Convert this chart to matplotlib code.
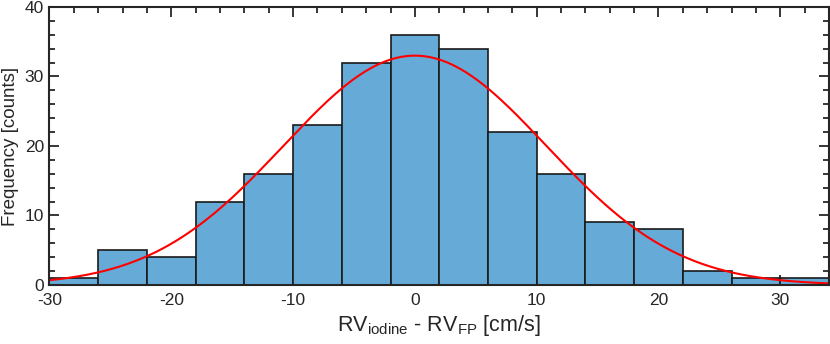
"""Histogram of RV differences (iodine vs FP) with a Gaussian fit overlay."""

import matplotlib

matplotlib.use("Agg")
import matplotlib.pyplot as plt
import numpy as np
from matplotlib.ticker import MultipleLocator

# Histogram bins (cm/s) and counts
bin_edges = [-30, -26, -22, -18, -14, -10, -6, -2, 2, 6, 10, 14, 18, 22, 26, 30, 34]
counts = [1, 5, 4, 12, 16, 23, 32, 36, 34, 22, 16, 9, 8, 2, 1, 1]

# Gaussian fit parameters (peak height in counts, mean and sigma in cm/s)
fit_peak = 33.0
fit_mean = 0.0
fit_sigma = 10.8

x_ticks = [-30, -20, -10, 0, 10, 20, 30]
y_ticks = [0, 10, 20, 30, 40]

plt.rcParams["font.family"] = ["Liberation Sans", "DejaVu Sans"]
plt.rcParams["mathtext.default"] = "regular"
plt.rcParams["axes.unicode_minus"] = False

BAR_COLOR = "#66aad7"
AXIS_COLOR = "#262626"


def main():
    fig = plt.figure(figsize=(8.3, 3.44), dpi=100)
    ax = fig.add_axes([0.0596, 0.1715, 0.9392, 0.8082])

    edges = np.array(bin_edges, dtype=float)
    centers = 0.5 * (edges[:-1] + edges[1:])
    ax.hist(
        centers,
        bins=edges,
        weights=counts,
        color=BAR_COLOR,
        edgecolor="#1a1a1a",
        linewidth=1.2,
        zorder=2,
    )

    # Fitted Gaussian curve
    xs = np.linspace(edges[0], edges[-1], 400)
    ys = fit_peak * np.exp(-0.5 * ((xs - fit_mean) / fit_sigma) ** 2)
    ax.plot(xs, ys, color="red", linewidth=1.5, zorder=3)

    ax.set_xlim(edges[0], edges[-1])
    ax.set_ylim(0, 40)
    ax.set_xticks(x_ticks)
    ax.set_yticks(y_ticks)
    ax.xaxis.set_minor_locator(MultipleLocator(2))
    ax.yaxis.set_minor_locator(MultipleLocator(2))
    ax.tick_params(
        which="both", direction="in", top=True, right=True,
        color=AXIS_COLOR, width=1.3, labelsize=12.5, labelcolor=AXIS_COLOR,
    )
    ax.tick_params(which="major", length=7)
    ax.tick_params(which="minor", length=4)
    ax.tick_params(axis="x", pad=6)
    ax.tick_params(axis="y", pad=4)
    for spine in ax.spines.values():
        spine.set_color(AXIS_COLOR)
        spine.set_linewidth(1.5)
        spine.set_zorder(4)

    ax.set_xlabel(r"RV$_{iodine}$ - RV$_{FP}$ [cm/s]", fontsize=15.5,
                  color=AXIS_COLOR, labelpad=3)
    ax.set_ylabel("Frequency [counts]", fontsize=13.5, color=AXIS_COLOR,
                  labelpad=4)

    fig.savefig("out.png", dpi=100)
    plt.close(fig)


if __name__ == "__main__":
    main()
